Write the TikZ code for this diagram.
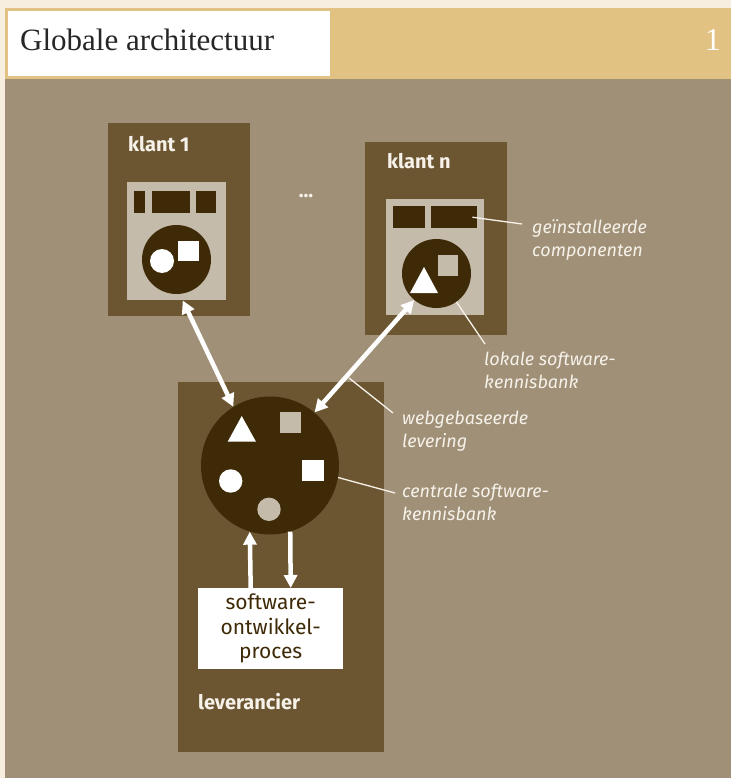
\documentclass[tikz,border=0pt]{standalone}
\usepackage{fontspec}
\setmainfont{Liberation Serif}
\newfontfamily\labelfont{Fira Sans}
\usepackage{xcolor}
\usepackage{tikz}
\usetikzlibrary{shapes,arrows.meta}
\definecolor{cream}{HTML}{F7EEDF}
\definecolor{gold}{HTML}{E2C283}
\definecolor{photo}{HTML}{A09077}
\definecolor{hostbrown}{HTML}{6C5631}
\definecolor{panelgrey}{HTML}{C4BBAB}
\definecolor{darkbrown}{HTML}{3E2A07}
\definecolor{labelwhite}{HTML}{F6F2EA}
\tikzstyle{host} = [rectangle, fill=hostbrown, anchor=north west, inner sep=0pt]
\tikzstyle{panel} = [rectangle, fill=panelgrey, anchor=north west, inner sep=0pt]
\tikzstyle{slot} = [rectangle, fill=darkbrown, anchor=north west, inner sep=0pt,
    minimum height=22pt]
\tikzstyle{kbase} = [circle, fill=darkbrown, inner sep=0pt]
\tikzstyle{hostname} = [anchor=base west, text=labelwhite, inner sep=0pt,
    font=\labelfont\bfseries\fontsize{20}{24}\selectfont]
\tikzstyle{note} = [anchor=base west, align=left, text=labelwhite, inner sep=0pt,
    font=\labelfont\itshape\fontsize{18}{23}\selectfont]
\tikzstyle{arrow} = [draw=white, line width=4.5pt, -{Triangle[length=13pt,width=13pt]}]
\tikzstyle{dblarrow} = [arrow, {Triangle[length=13pt,width=13pt]}-{Triangle[length=13pt,width=13pt]}]
\tikzstyle{line} = [draw=labelwhite, line width=1.3pt]

\begin{document}
\begin{tikzpicture}[x=1pt, y=-1pt]
			\useasboundingbox (0,0) rectangle (731,778);
			% Background and title bar
			\fill[cream] (0,0) rectangle (731,778);
			\fill[gold] (5,8) rectangle (731,79);
			\fill[white] (8,11) rectangle (330,76);
			\fill[photo] (5,79) rectangle (731,778);
			\node [anchor=base west, text=black!85, inner sep=0pt, font=\fontsize{31}{34}\selectfont] (title) at (20,51) {Globale architectuur};
			\node [anchor=base east, text=white, inner sep=0pt, font=\fontsize{32}{34}\selectfont] (pagenum) at (721,51) {1};
			% Place nodes: klant 1
			\node [host, minimum width=142pt, minimum height=193pt] (klant1) at (108,123) {};
			\node [hostname] (klant1name) at (128,152) {klant 1};
			\node [panel, minimum width=99pt, minimum height=118pt] (panel1) at (127,182) {};
			\node [slot, minimum width=11pt] (slot1a) at (134,191) {};
			\node [slot, minimum width=38pt] (slot1b) at (152,191) {};
			\node [slot, minimum width=20pt] (slot1c) at (196,191) {};
			\node [kbase, minimum size=69pt] (kb1) at (176.5,259.5) {};
			\fill[white] (162,261) circle (12);
			\fill[white] (178,241) rectangle (199,261);
			% klant n
			\node [host, minimum width=142pt, minimum height=193pt] (klantn) at (365,142) {};
			\node [hostname] (klantnname) at (387,168) {klant n};
			\node [panel, minimum width=98pt, minimum height=116pt] (paneln) at (386,199) {};
			\node [slot, minimum width=32pt] (slotna) at (393,206) {};
			\node [slot, minimum width=46pt] (slotnb) at (431,206) {};
			\node [kbase, minimum size=69pt] (kbn) at (436.5,273.5) {};
			\fill[white] (424,267) -- (438,293) -- (410,293) -- cycle;
			\fill[panelgrey] (438,255) rectangle (458,276);
			\node [text=labelwhite, inner sep=0pt, font=\labelfont\bfseries\fontsize{20}{24}\selectfont] (dots) at (306,196) {...};
			% leverancier
			\node [host, minimum width=206pt, minimum height=370pt] (leverancier) at (178,382) {};
			\node [hostname] (leveranciername) at (198,709) {leverancier};
			\node [kbase, minimum size=138pt] (kbc) at (270,465.5) {};
			\fill[white] (241.7,416) -- (256,441.7) -- (227.7,441.7) -- cycle;
			\fill[panelgrey] (280,412) rectangle (301,433);
			\fill[white] (302,460) rectangle (324,481);
			\fill[white] (230.7,481) circle (11.7);
			\fill[panelgrey] (269,509.3) circle (11.7);
			\node [rectangle, fill=white, minimum width=145pt, minimum height=81pt, inner sep=0pt, anchor=north west,
				align=center, text=darkbrown, font=\labelfont\fontsize{21}{24.5}\selectfont] (dev) at (198,588) {software-\\ontwikkel-\\proces};
			% notes
			\node [note] (compnote) at (532,256) {geïnstalleerde\\componenten};
			\node [note] (localnote) at (484,388) {lokale software-\\kennisbank};
			\node [note] (webnote) at (402,447) {webgebaseerde\\levering};
			\node [note] (centralnote) at (402,520) {centrale software-\\kennisbank};
			\coordinate (compend) at (522,224);
			\coordinate (localend) at (485,344);
			\coordinate (webstart) at (349,378);
			\coordinate (webend) at (393,413);
			\coordinate (centralend) at (395,493);
			%
			\draw [dblarrow] ([xshift=6pt]panel1.south) -- (kbc.122);
			\draw [dblarrow] (kbn.230) -- (kbc.50);
			\draw [arrow] ([xshift=-20pt]dev.north) -- (kbc.253);
			\draw [arrow] (kbc.287) -- ([xshift=20pt]dev.north);
			\path [line] ([xshift=-5pt]slotnb.east) -- (compend);
			\path [line] (kbn.-55) -- (localend);
			\path [line] (webstart) -- (webend);
			\path [line] (kbc.-10) -- (centralend);
	\end{tikzpicture}
\end{document}
